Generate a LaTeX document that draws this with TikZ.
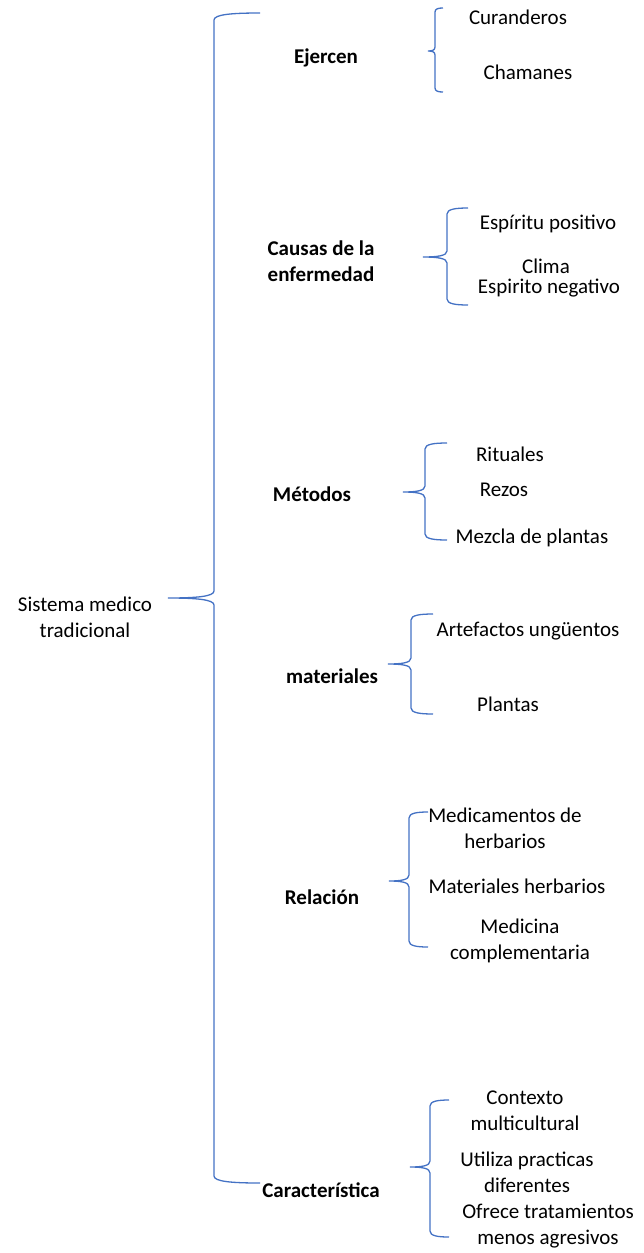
\documentclass[tikz,border=0pt]{standalone}
\usepackage{fontspec}
\setmainfont{Carlito}
\definecolor{brblue}{HTML}{4472C4}
\tikzset{
  br/.style={draw=brblue, line width=1.3pt},
  lbl/.style={inner sep=0pt, align=center, font=\fontsize{21}{25.6}\selectfont},
  blbl/.style={lbl, font=\fontsize{21}{25.6}\selectfont\bfseries},
}
\newcommand\cbrace[7]{%
  \draw[br] (#1,#4) .. controls ({#2+0.4*(#1-#2)},#4) and (#2,{#4+0.2*#7}) .. (#2,{#4+#7})
    -- (#2,{#5-#7}) .. controls (#2,{#5-0.2*#7}) and ({#2-0.4*(#2-#3)},#5) .. (#3,#5)
    .. controls ({#2-0.4*(#2-#3)},#5) and (#2,{#5+0.2*#7}) .. (#2,{#5+#7})
    -- (#2,{#6-#7}) .. controls (#2,{#6-0.2*#7}) and ({#2+0.4*(#1-#2)},#6) .. (#1,#6);}
\begin{document}
\begin{tikzpicture}[x=1pt,y=-1pt]
\useasboundingbox (0,0) rectangle (644,1253);
% braces
\cbrace{260}{214}{168}{13}{598}{1183}{7}
\cbrace{443}{435}{428}{8}{51}{92}{4}
\cbrace{468}{447}{423}{208}{257}{305}{6}
\cbrace{447}{425}{403}{443}{492}{540}{6}
\cbrace{433}{411}{388}{614}{664}{714}{6}
\cbrace{428}{409}{389}{812}{881}{947}{6}
\cbrace{449}{430}{410}{1100}{1167}{1237}{6}
% root
\node[lbl] (sys) at (85,617) {Sistema medico\\tradicional};
% categories
\node[blbl] (ejer) at (326,58) {Ejercen};
\node[blbl] (causas) at (321,261) {Causas de la\\enfermedad};
\node[blbl] (met) at (312,494) {Métodos};
\node[blbl] (mat) at (332,676) {materiales};
\node[blbl] (rel) at (322,897) {Relación};
\node[blbl] (car) at (321,1190) {Característica};
% items
\node[lbl] (cur) at (518,17) {Curanderos};
\node[lbl] (cha) at (528,72) {Chamanes};
\node[lbl] (esp) at (548,224) {Espíritu positivo};
\node[lbl] (cli) at (546,266) {Clima};
\node[lbl] (esn) at (549,288) {Espirito negativo};
\node[lbl] (rit) at (510,454) {Rituales};
\node[lbl] (rez) at (504,490) {Rezos};
\node[lbl] (mez) at (532,538) {Mezcla de plantas};
\node[lbl] (art) at (528,631) {Artefactos ungüentos};
\node[lbl] (pla) at (508,704) {Plantas};
\node[lbl] (medh) at (505,828) {Medicamentos de\\herbarios};
\node[lbl] (math) at (517,886) {Materiales herbarios};
\node[lbl] (medc) at (520,941) {Medicina\\complementaria};
\node[lbl] (ctx) at (525,1111) {Contexto\\multicultural};
\node[lbl] (uti) at (527,1172) {Utiliza practicas\\diferentes};
\node[lbl] (ofr) at (548,1226) {Ofrece tratamientos\\menos agresivos};
\end{tikzpicture}
\end{document}
